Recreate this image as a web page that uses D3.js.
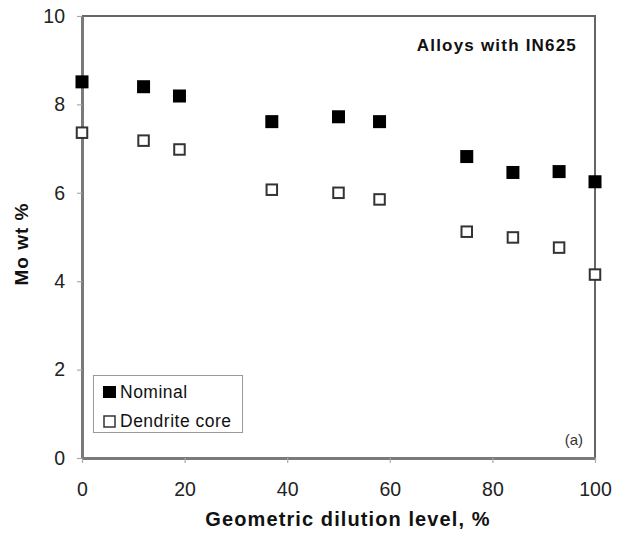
<!DOCTYPE html>
<html>
<head>
<meta charset="utf-8">
<script src="https://cdn.jsdelivr.net/npm/d3@7/dist/d3.min.js"></script>
<style>
  html, body { margin: 0; padding: 0; background: #fff; }
  svg { display: block; font-family: "Liberation Sans", Arial, sans-serif; }
</style>
</head>
<body>
<svg id="chart" width="628" height="536"></svg>
<script>
// Geometric dilution level (%) of each alloy
const dilution = [0, 12, 19, 37, 50, 58, 75, 84, 93, 100];
// Mo content, wt %
const nominal = [8.51, 8.40, 8.19, 7.61, 7.72, 7.61, 6.82, 6.46, 6.48, 6.25];
const dendriteCore = [7.36, 7.18, 6.98, 6.07, 6.00, 5.85, 5.12, 4.99, 4.76, 4.15];
// Axis ticks
const xTicks = [0, 20, 40, 60, 80, 100];
const yTicks = [0, 2, 4, 6, 8, 10];
const seriesNames = ["Nominal", "Dendrite core"];

const svg = d3.select("#chart");
const plot = { left: 82, right: 595, top: 16, bottom: 458 };

const x = d3.scaleLinear().domain([0, 100]).range([plot.left, plot.right]);
const y = d3.scaleLinear().domain([0, 10]).range([plot.bottom, plot.top]);

// Frame (top and right edges)
svg.append("path")
  .attr("d", `M${plot.left},${plot.top}H${plot.right}V${plot.bottom}`)
  .attr("fill", "none").attr("stroke", "#666").attr("stroke-width", 2);

// Axes
const xAxis = svg.append("g").attr("transform", `translate(0,${plot.bottom})`)
  .call(d3.axisBottom(x).tickValues(xTicks).tickSize(5).tickPadding(19).tickSizeOuter(0));
const yAxis = svg.append("g").attr("transform", `translate(${plot.left},0)`)
  .call(d3.axisLeft(y).tickValues(yTicks).tickSize(5).tickPadding(12).tickSizeOuter(0));

[xAxis, yAxis].forEach(g => {
  g.select(".domain").attr("stroke", "#7a7a7a").attr("stroke-width", 3);
  g.selectAll(".tick line").attr("stroke", "#aaa").attr("stroke-width", 1.2);
  g.selectAll(".tick text").attr("fill", "#222").attr("font-size", 19.5)
    .attr("font-family", "'Liberation Sans', Arial, sans-serif");
});

// Markers
const size = 13;
const pts = dilution.map((d, i) => ({ x: d, nom: nominal[i], core: dendriteCore[i] }));

svg.append("g").selectAll("rect").data(pts).join("rect")
  .attr("x", d => x(d.x) - size / 2).attr("y", d => y(d.nom) - size / 2)
  .attr("width", size).attr("height", size).attr("fill", "#000");

const osz = 10.5;
svg.append("g").selectAll("rect").data(pts).join("rect")
  .attr("x", d => x(d.x) - osz / 2).attr("y", d => y(d.core) - osz / 2)
  .attr("width", osz).attr("height", osz)
  .attr("fill", "#fff").attr("stroke", "#333").attr("stroke-width", 2);

// Axis titles
svg.append("text").attr("x", 348).attr("y", 526).attr("text-anchor", "middle")
  .attr("font-size", 20).attr("font-weight", "bold").attr("fill", "#111")
  .attr("letter-spacing", 1.1)
  .text("Geometric dilution level, %");
svg.append("text").attr("transform", "translate(28,244) rotate(-90)")
  .attr("text-anchor", "middle").attr("font-size", 19).attr("font-weight", "bold").attr("fill", "#111")
  .attr("letter-spacing", 1)
  .text("Mo wt %");

// Panel annotations
svg.append("text").attr("x", 577).attr("y", 51).attr("text-anchor", "end")
  .attr("font-size", 17).attr("font-weight", "bold").attr("fill", "#111")
  .attr("letter-spacing", 1.2)
  .text("Alloys with IN625");
svg.append("text").attr("x", 583).attr("y", 445).attr("text-anchor", "end")
  .attr("font-size", 15).attr("fill", "#333").text("(a)");

// Legend
const lg = svg.append("g");
lg.append("rect").attr("x", 93.5).attr("y", 375.5).attr("width", 149).attr("height", 57)
  .attr("fill", "#fff").attr("stroke", "#999").attr("stroke-width", 1);
seriesNames.forEach((name, i) => {
  const cy = 392 + i * 29;
  if (i === 0) {
    lg.append("rect").attr("x", 103).attr("y", cy - 6).attr("width", 13).attr("height", 12).attr("fill", "#000");
  } else {
    lg.append("rect").attr("x", 104).attr("y", cy - 5).attr("width", 11).attr("height", 11)
      .attr("fill", "#fff").attr("stroke", "#333").attr("stroke-width", 1.5);
  }
  lg.append("text").attr("x", 120).attr("y", cy + 6).attr("font-size", 17.5)
    .attr("letter-spacing", 0.5).attr("fill", "#111").text(name);
});
</script>
</body>
</html>
